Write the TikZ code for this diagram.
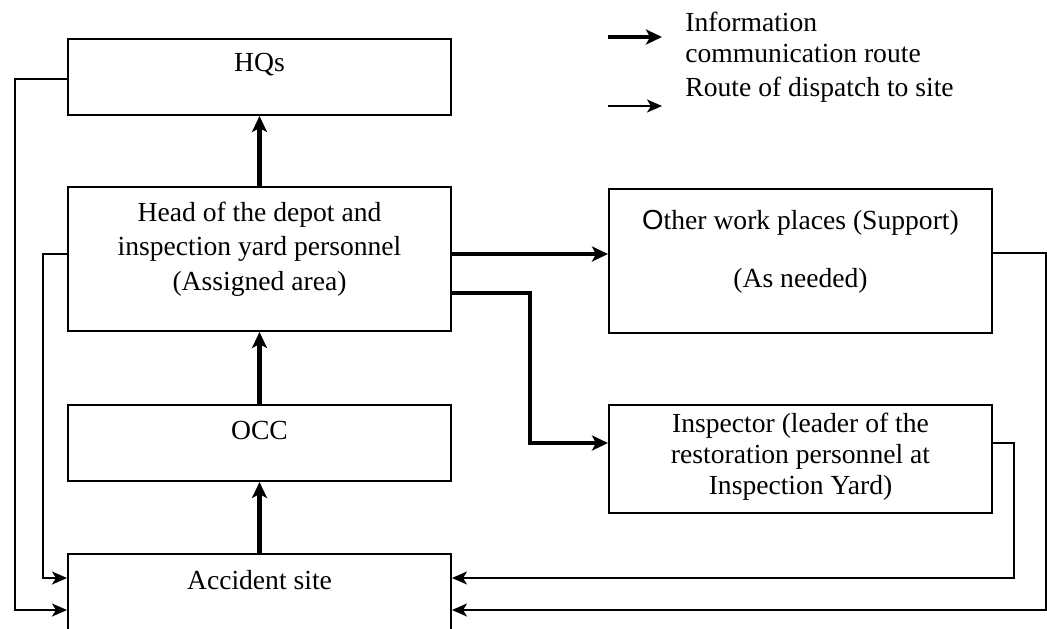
\documentclass[tikz,border=0pt]{standalone}
\usepackage{fontspec}
\setmainfont{Liberation Serif}
\newfontfamily\arialfont{Liberation Sans}
\usetikzlibrary{arrows.meta, fit}

\tikzset{
  box/.style={draw, line width=1pt, inner sep=0pt},
  lbl/.style={font=\fontsize{13.8}{17.25}\selectfont, align=center, inner sep=0pt},
  info/.style={line width=2.4pt, -{Stealth[length=8pt, width=7.5pt, inset=2pt]}},
  dispatch/.style={line width=1pt, -{Stealth[length=7.5pt, width=6.5pt, inset=2pt]}},
}

\begin{document}
\begin{tikzpicture}[x=0.5pt, y=-0.5pt]
  \clip (0,0) rectangle (1047,628);
  % boxes
  \node[box, fit={(68,39) (451,115)}] (hqs) {};
  \node[box, fit={(68,187) (451,331)}] (head) {};
  \node[box, fit={(68,405) (451,481)}] (occ) {};
  \node[box, fit={(68,554) (451,680)}] (acc) {};
  \node[box, fit={(609,189) (992,333)}] (other) {};
  \node[box, fit={(609,405) (992,513)}] (insp) {};

  % box texts
  \node[lbl] (hqs-t) at (259.5,65) {HQs};
  \node[lbl] (head-t) at (259.5,249)
    {Head of the depot and\\inspection yard personnel\\(Assigned area)};
  \node[lbl] (occ-t) at (259.5,430) {OCC};
  \node[lbl] (acc-t) at (259.5,580) {Accident site};
  \node[lbl] (other-t1) at (800.5,223) {{\arialfont O}ther work places (Support)};
  \node[lbl] (other-t2) at (800.5,281) {(As needed)};
  \node[lbl, font=\fontsize{13.8}{15.5}\selectfont] (insp-t) at (800.5,457)
    {Inspector (leader of the\\restoration personnel at\\Inspection Yard)};

  % legend
  \coordinate (k1s) at (608,37);
  \coordinate (k1e) at (662,37);
  \coordinate (k2s) at (608,106);
  \coordinate (k2e) at (662,106);
  \draw[info, line width=2pt] (k1s) -- (k1e);
  \draw[dispatch] (k2s) -- (k2e);
  \node[lbl, align=left, anchor=west, font=\fontsize{13.8}{15.5}\selectfont] (key1) at (685,37.5)
    {Information\\communication route};
  \node[lbl, anchor=west] (key2) at (685,90) {Route of dispatch to site};

  % information communication route
  \draw[info] (acc.north) -- (occ.south);
  \draw[info] (occ.north) -- (head.south);
  \draw[info] (head.north) -- (hqs.south);
  \draw[info] ([yshift=2.5pt]head.east) -- ([yshift=2.5pt]head.east -| other.west);
  \coordinate (bend) at (530,443);
  \draw[info] ([yshift=-17pt]head.east) -| (bend) -- (bend -| insp.west);

  % route of dispatch to site
  \coordinate (hi) at (0,578);
  \coordinate (lo) at (0,610);
  \coordinate (outl) at (15,0);
  \coordinate (inl) at (43,0);
  \coordinate (inr) at (1014,0);
  \coordinate (outr) at (1046,0);
  \draw[dispatch] ([yshift=-1pt]hqs.west) -| (outl |- lo) -- (acc.west |- lo);
  \draw[dispatch] ([yshift=2.5pt]head.west) -| (inl |- hi) -- (acc.west |- hi);
  \draw[dispatch] ([yshift=8pt]insp.east) -| (inr |- hi) -- (acc.east |- hi);
  \draw[dispatch] ([yshift=4pt]other.east) -| (outr |- lo) -- (acc.east |- lo);
\end{tikzpicture}
\end{document}
